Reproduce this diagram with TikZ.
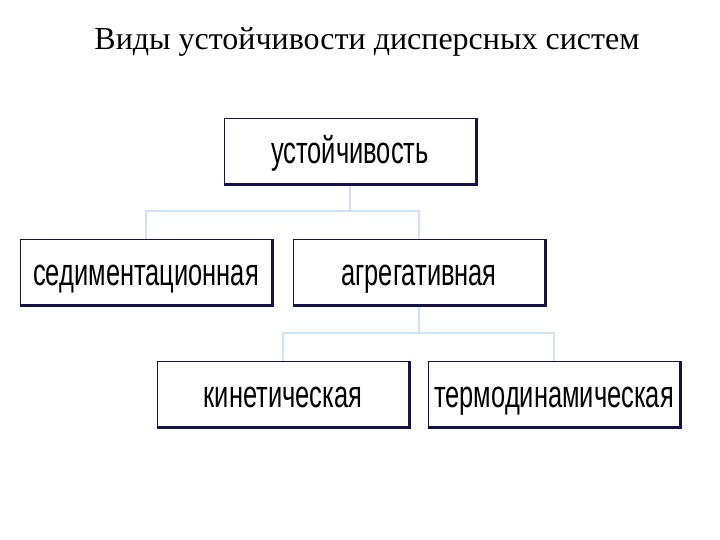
\documentclass[tikz,border=0pt]{standalone}
\usepackage{fontspec}
\setmainfont{Liberation Serif}
\newfontfamily\boxfont[FakeStretch=0.67]{Liberation Sans}
\usetikzlibrary{positioning,calc}
\definecolor{cNavy}{HTML}{14144A}
\definecolor{cLine}{HTML}{CFE2F3}
\tikzset{
  kind/.style={rectangle,draw=cNavy,line width=1.6pt,fill=white,minimum width=251pt,minimum height=65pt,inner sep=0pt,text height=26pt,text depth=0pt,font=\boxfont\fontsize{38}{40}\selectfont},
  conn/.style={draw=cLine,line width=2pt},
  shade/.style={cNavy,line width=2.6pt},
}

\begin{document}
\begin{tikzpicture}[x=1pt,y=-1pt]
  \useasboundingbox (0,0) rectangle (720,540);
  \node[font=\fontsize{32}{35}\selectfont] (title) at (367,42) {Виды устойчивости дисперсных систем};
  \node[kind] (ust)  at (350,151) {устойчивость};
  \node[kind] (sed)  at (146,272) {седиментационная};
  \node[kind] (agr)  at (419,272) {агрегативная};
  \node[kind] (kin)  at (283,394) {кинетическая};
  \node[kind] (term) at (554,394) {термодинамическая};
  % branching lines
  \coordinate (j1) at (350,211);
  \coordinate (j2) at (419,333);
  \draw[conn] (ust.south) -- (j1);
  \draw[conn] (sed.north) |- (j1) -| (agr.north);
  \draw[conn] (agr.south) -- (j2);
  \draw[conn] (kin.north) |- (j2) -| (term.north);
  % heavier lower and right edges
  \foreach \n in {ust,sed,agr,kin,term}
    \draw[shade] (\n.south west) -- (\n.south east) -- (\n.north east);
\end{tikzpicture}
\end{document}
